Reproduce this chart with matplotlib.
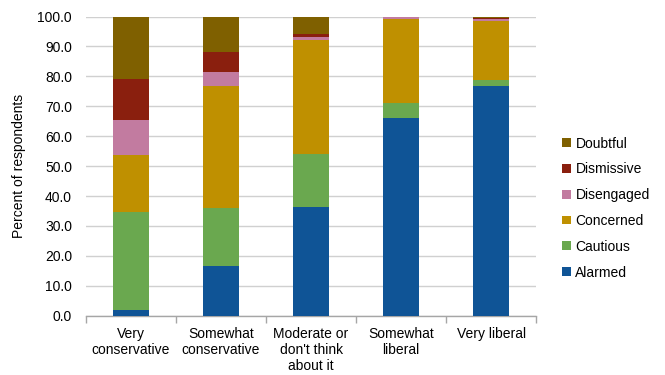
import matplotlib
matplotlib.use("Agg")
import matplotlib.pyplot as plt
import numpy as np

plt.rcParams['font.family'] = ['Liberation Sans', 'DejaVu Sans']

categories = ["Very\nconservative", "Somewhat\nconservative", "Moderate or\ndon't think\nabout it",
              "Somewhat\nliberal", "Very liberal"]
series_names = ["Alarmed", "Cautious", "Concerned", "Disengaged", "Dismissive", "Doubtful"]
alarmed = [2.0, 16.6, 36.3, 66.0, 76.8]
cautious = [32.7, 19.5, 17.9, 5.1, 2.0]
concerned = [19.0, 40.8, 38.0, 28.1, 19.7]
disengaged = [11.6, 4.7, 1.1, 0.7, 0.8]
dismissive = [13.7, 6.6, 0.8, 0.05, 0.2]
doubtful = [21.0, 11.8, 5.9, 0.05, 0.5]
colors = ["#0F5496", "#6AA84F", "#BF9000", "#C27BA0", "#8A1F0E", "#7F6000"]

values = [alarmed, cautious, concerned, disengaged, dismissive, doubtful]

fig = plt.figure(figsize=(6.65, 3.75), dpi=100)
ax = fig.add_axes([0.1293, 0.158, 0.677, 0.798])

x = np.arange(len(categories))
bottom = np.zeros(len(categories))
handles = []
for name, vals, c in zip(series_names, values, colors):
    b = ax.bar(x, vals, width=0.4, bottom=bottom, color=c, label=name, zorder=3)
    bottom += np.array(vals)
    handles.append(b)

ax.set_xlim(-0.5, len(categories) - 0.5)
ax.set_ylim(0, 100)
ax.set_yticks(np.arange(0, 101, 10))
ax.set_yticklabels([f"{v:.1f}" for v in np.arange(0, 101, 10)], fontsize=10, color="#000000")
ax.yaxis.grid(True, color="#D0D0D0", linewidth=1, zorder=0)
ax.tick_params(axis='y', length=0, pad=10)

ax.set_xticks(x)
ax.set_xticklabels(categories, fontsize=10, linespacing=1.2)
ax.tick_params(axis='x', length=0, pad=8)
ax.set_xticks(np.arange(-0.5, len(categories), 1), minor=True)
ax.tick_params(axis='x', which='minor', length=5, color="#A6A6A6", width=1)

for s in ['top', 'right', 'left']:
    ax.spines[s].set_visible(False)
ax.spines['bottom'].set_color("#A6A6A6")
ax.spines['bottom'].set_linewidth(1)

ax.set_ylabel("Percent of respondents", fontsize=10, labelpad=8)

leg = ax.legend(handles[::-1], series_names[::-1], loc='center left',
                bbox_to_anchor=(1.03, 0.36), frameon=False, fontsize=10,
                handlelength=0.6, handleheight=0.6, handletextpad=0.35,
                labelspacing=0.85)

fig.savefig("out.png", dpi=100)
